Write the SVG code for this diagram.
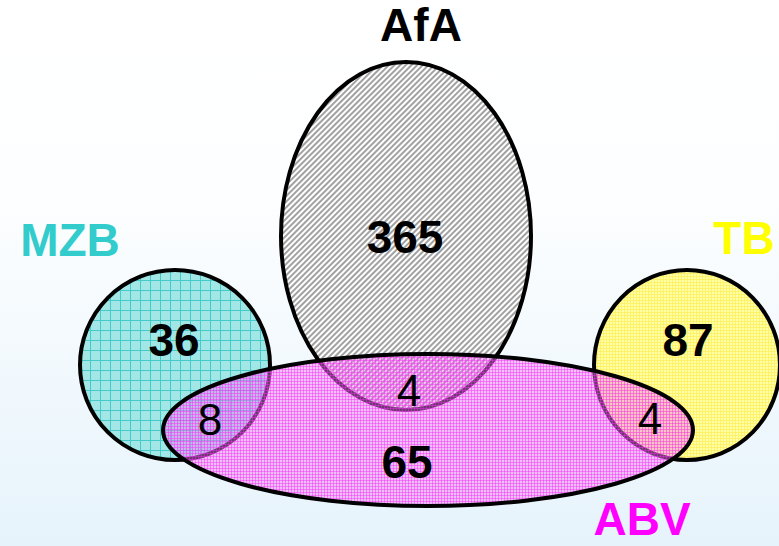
<svg xmlns="http://www.w3.org/2000/svg" width="779" height="546" viewBox="0 0 779 546">
<defs>
<linearGradient id="bg" x1="0" y1="0" x2="0" y2="1">
<stop offset="0" stop-color="#ffffff"/>
<stop offset="0.35" stop-color="#fdfeff"/>
<stop offset="1" stop-color="#e6f3fb"/>
</linearGradient>
<pattern id="hatch" patternUnits="userSpaceOnUse" width="4" height="4" patternTransform="rotate(45)">
<rect width="4" height="4" fill="#ffffff"/>
<line x1="1" y1="0" x2="1" y2="4" stroke="#8a8a8a" stroke-width="1.6"/>
</pattern>
<pattern id="grid" patternUnits="userSpaceOnUse" width="10" height="10">
<rect width="10" height="10" fill="#a2e6e6"/>
<path d="M0 0.5H10M0.5 0V10" stroke="#45caca" stroke-width="1"/>
</pattern>
<pattern id="ygrid" patternUnits="userSpaceOnUse" width="3" height="3">
<rect width="3" height="3" fill="#ffffa8"/>
<path d="M0 0.5H3M0.5 0V3" stroke="#fff060" stroke-width="0.8"/>
</pattern>
<pattern id="mgrid" patternUnits="userSpaceOnUse" width="3" height="3">
<rect width="3" height="3" fill="#f080f0" fill-opacity="0.45"/>
<path d="M0 0.5H3M0.5 0V3" stroke="#ff20ff" stroke-width="0.8" stroke-opacity="0.55"/>
</pattern>
</defs>
<style>
.set{stroke:#000;stroke-width:4}
.lbl{font-family:"Liberation Sans",Arial,sans-serif;font-weight:bold;font-size:46px;text-anchor:middle}
.num{font-family:"Liberation Sans",Arial,sans-serif;font-weight:bold;font-size:46px;text-anchor:middle;fill:#000}
.sm{font-family:"Liberation Sans",Arial,sans-serif;font-size:44px;text-anchor:middle;fill:#000}
</style>
<rect width="779" height="546" fill="url(#bg)"/>
<g id="AfA">
<ellipse class="set" cx="406" cy="236" rx="125" ry="174" fill="url(#hatch)"/>
<text class="lbl" x="421" y="41" fill="#000">AfA</text>
<text class="num" x="405" y="253">365</text>
</g>
<g id="MZB">
<circle class="set" cx="175" cy="365" r="95" fill="url(#grid)"/>
<text class="lbl" x="70" y="256" fill="#33cccc">MZB</text>
<text class="num" x="174" y="356">36</text>
</g>
<g id="TB">
<ellipse class="set" cx="687" cy="365" rx="93" ry="95" fill="url(#ygrid)"/>
<text class="lbl" x="744" y="254" fill="#ffff00">TB</text>
<text class="num" x="688" y="356">87</text>
</g>
<g id="ABV">
<ellipse class="set" cx="428" cy="430" rx="265" ry="76" fill="url(#mgrid)"/>
<text class="lbl" x="642" y="535" fill="#ff00ff">ABV</text>
<text class="num" x="407" y="478">65</text>
<text class="sm" x="210" y="435">8</text>
<text class="sm" x="409" y="406">4</text>
<text class="sm" x="650" y="434">4</text>
</g>
<g id="connectors"></g>
</svg>
